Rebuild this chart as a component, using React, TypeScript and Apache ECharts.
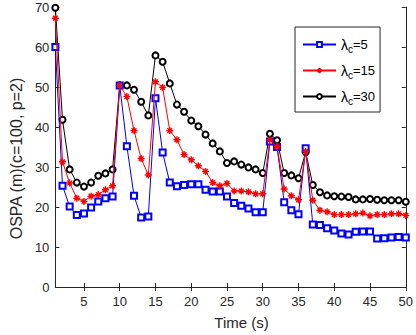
import React, { useEffect, useRef } from 'react';
import * as echarts from 'echarts';

const time = [1, 2, 3, 4, 5, 6, 7, 8, 9, 10, 11, 12, 13, 14, 15, 16, 17, 18, 19, 20, 21, 22, 23, 24, 25, 26, 27, 28, 29, 30, 31, 32, 33, 34, 35, 36, 37, 38, 39, 40, 41, 42, 43, 44, 45, 46, 47, 48, 49, 50];

const lambda5 = [60.0, 25.3, 20.1, 18.0, 18.4, 19.9, 21.4, 22.2, 22.6, 50.4, 35.2, 22.8, 17.4, 17.6, 47.2, 33.6, 26.1, 25.2, 25.5, 25.7, 25.7, 24.3, 23.9, 23.9, 22.6, 21.0, 20.3, 19.6, 18.7, 18.7, 36.4, 35.0, 21.2, 19.2, 18.2, 34.7, 15.6, 15.5, 14.7, 14.1, 13.4, 13.1, 13.8, 13.9, 13.9, 12.1, 12.2, 12.4, 12.5, 12.4];

const lambda15 = [67.2, 31.3, 26.0, 22.2, 21.4, 22.7, 23.1, 24.3, 25.3, 50.4, 47.6, 39.1, 32.1, 28.0, 51.3, 49.9, 39.1, 36.8, 33.1, 31.8, 30.3, 28.9, 26.1, 25.3, 25.9, 24.0, 24.0, 23.8, 23.3, 23.3, 36.8, 35.1, 24.5, 22.8, 21.8, 33.9, 21.7, 19.2, 18.8, 18.1, 18.1, 18.1, 18.3, 18.5, 17.8, 18.1, 18.1, 18.3, 18.3, 17.9];

const lambda30 = [69.8, 41.8, 29.4, 26.1, 25.1, 26.1, 27.8, 28.4, 29.4, 50.4, 50.4, 49.3, 46.3, 42.9, 57.9, 56.3, 50.9, 45.6, 43.8, 41.6, 40.2, 38.1, 35.9, 33.9, 31.0, 31.4, 30.6, 29.9, 29.4, 28.5, 38.3, 36.7, 28.5, 27.9, 27.2, 33.7, 25.5, 23.7, 22.9, 22.7, 22.6, 22.5, 21.9, 21.9, 22.0, 21.8, 21.7, 21.7, 21.7, 21.3];

const xTicks = [5, 10, 15, 20, 25, 30, 35, 40, 45, 50];
const seriesNames = ['λc=5', 'λc=15', 'λc=30'];
const legendSuffix = ['=5', '=15', '=30'];

const FONT = 'Liberation Sans, Arial, Helvetica, sans-serif';
const AXIS_COLOR = '#262626';

const asterisk = 'path://M0,5L10,5M5,0L5,10M1.6,1.6L8.4,8.4M8.4,1.6L1.6,8.4';

export default function App() {
  const ref = useRef<HTMLDivElement>(null);
  useEffect(() => {
    if (!ref.current) return;
    const chart = echarts.init(ref.current, undefined, { renderer: 'svg' });
    const pairs = (ys: number[]) => time.map((t, i) => [t, ys[i]]);
    const axisCommon = {
      axisLine: { show: true, lineStyle: { color: AXIS_COLOR, width: 1 } },
      splitLine: { show: false },
    };
    chart.setOption({
      animation: false,
      backgroundColor: '#ffffff',
      grid: { left: 41, right: 10, top: 7, bottom: 43, containLabel: false },
      xAxis: [
        {
          type: 'value', min: 1, max: 50, position: 'bottom',
          ...axisCommon,
          axisTick: { show: true, inside: true, length: 4, customValues: xTicks, lineStyle: { color: AXIS_COLOR } },
          axisLabel: { show: true, customValues: xTicks, color: AXIS_COLOR, fontFamily: FONT, fontSize: 13, margin: 8 },
          name: 'Time (s)', nameLocation: 'middle', nameGap: 28,
          nameTextStyle: { color: AXIS_COLOR, fontFamily: FONT, fontSize: 15, padding: [0, 0, 0, 22] },
        },
        {
          type: 'value', min: 1, max: 50, position: 'top',
          ...axisCommon,
          axisTick: { show: true, inside: true, length: 4, customValues: xTicks, lineStyle: { color: AXIS_COLOR } },
          axisLabel: { show: false },
        },
      ],
      yAxis: [
        {
          type: 'value', min: 0, max: 70, interval: 10, position: 'left',
          ...axisCommon,
          axisTick: { show: true, inside: true, length: 4, lineStyle: { color: AXIS_COLOR } },
          axisLabel: { color: AXIS_COLOR, fontFamily: FONT, fontSize: 13, margin: 6 },
          name: 'OSPA (m)(c=100, p=2)', nameLocation: 'middle', nameGap: 22,
          nameTextStyle: { color: AXIS_COLOR, fontFamily: FONT, fontSize: 16, padding: [0, 23, 0, 0] },
        },
        {
          type: 'value', min: 0, max: 70, interval: 10, position: 'right',
          ...axisCommon,
          axisTick: { show: true, inside: true, length: 4, lineStyle: { color: AXIS_COLOR } },
          axisLabel: { show: false },
        },
      ],
      legend: {
        orient: 'vertical',
        left: 295, top: 27,
        padding: [8, 5, 6, 7],
        itemWidth: 33, itemHeight: 6, itemGap: 7,
        borderColor: AXIS_COLOR, borderWidth: 1, backgroundColor: '#ffffff',
        data: seriesNames,
        formatter: (name: string) => `{l|λ}{s|c}{n|${legendSuffix[seriesNames.indexOf(name)]}}`,
        textStyle: {
          color: '#000000', fontFamily: FONT, fontSize: 13,
          rich: {
            l: { fontSize: 14, fontFamily: FONT, color: '#000', lineHeight: 16 },
            s: { fontSize: 10, fontFamily: FONT, color: '#000', lineHeight: 16, padding: [9, 0, 0, 0] },
            n: { fontSize: 13, fontFamily: FONT, color: '#000', lineHeight: 16 },
          },
        },
      },
      series: [
        {
          name: seriesNames[0], type: 'line', data: pairs(lambda5),
          symbol: 'emptyRect', symbolSize: 6, showSymbol: true,
          lineStyle: { color: '#0000ff', width: 1 },
          itemStyle: { color: '#0000ff', borderColor: '#0000ff', borderWidth: 1 },
          z: 2,
        },
        {
          name: seriesNames[1], type: 'line', data: pairs(lambda15),
          symbol: asterisk, symbolSize: 7, showSymbol: true,
          lineStyle: { color: '#ff0000', width: 1 },
          itemStyle: { color: '#ff0000', borderColor: '#ff0000', borderWidth: 1.4 },
          z: 3,
        },
        {
          name: seriesNames[2], type: 'line', data: pairs(lambda30),
          symbol: 'emptyCircle', symbolSize: 6, showSymbol: true,
          lineStyle: { color: '#000000', width: 1 },
          itemStyle: { color: '#000000', borderColor: '#000000', borderWidth: 1 },
          z: 1,
        },
      ],
    });
    return () => chart.dispose();
  }, []);
  return <div ref={ref} style={{ width: 416, height: 335, position: 'absolute', left: 0, top: 0 }} />;
}
